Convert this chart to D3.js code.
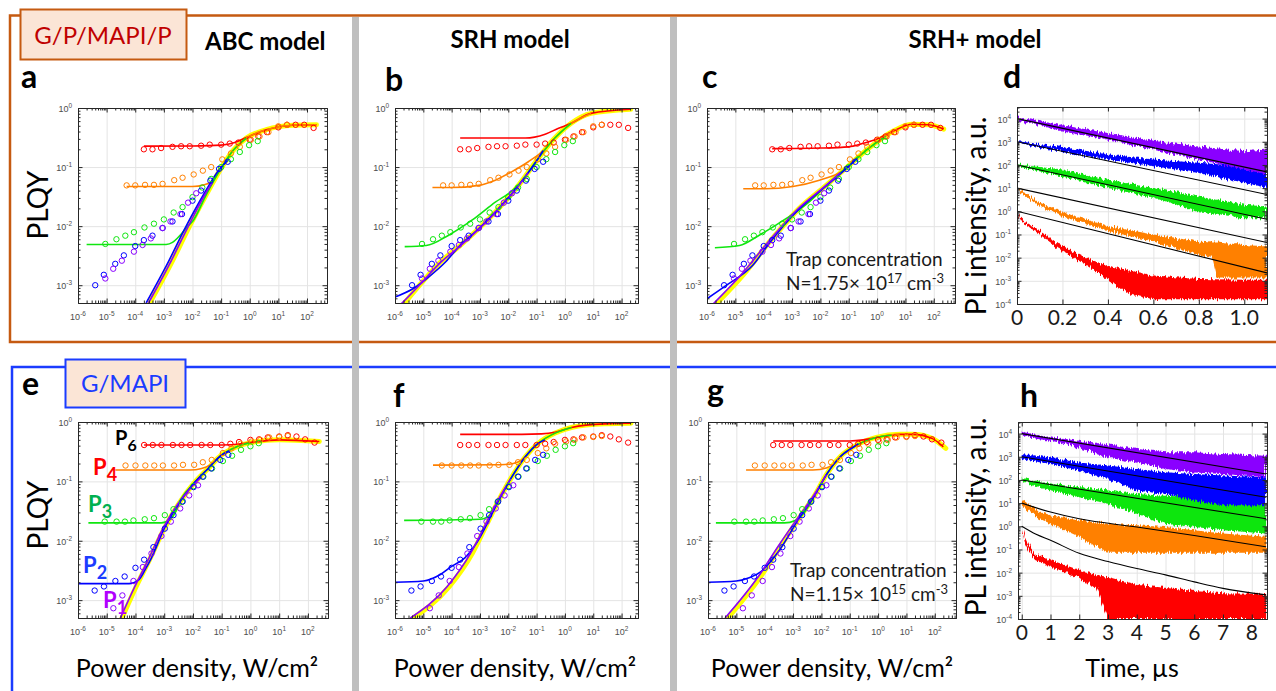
<!DOCTYPE html>
<html>
<head>
<meta charset="utf-8">
<script src="https://cdn.jsdelivr.net/npm/d3@7"></script>
<style>
body { margin: 0; background: #fff; }
svg { display: block; font-family: Lato, "Open Sans", sans-serif; }
.tk { font-family: "Liberation Sans", Arial, sans-serif; font-size: 9px; fill: #4d4d4d; }
.grid line { stroke: #e4e4e4; }
.grid .domain { display: none; }
.ax line, .ax path { stroke: #262626; stroke-width: 1; fill: none; }
</style>
</head>
<body>
<script>
// ---- PLQY vs power density (W/cm2), G/P/MAPI/P sample (panels a-c) ----
var topRed = [[2e-4,.20],[4e-4,.20],[8e-4,.21],[2e-3,.22],[4e-3,.225],[8e-3,.225],[2e-2,.23],[4e-2,.24],[.1,.24],[.2,.25],[.4,.26],[1,.29],[2,.33],[4,.39],[10,.47],[20,.52],[40,.52],[80,.52],[170,.46]];
var topOrange = [[5e-5,.049],[1e-4,.049],[2.2e-4,.05],[4.5e-4,.05],[9e-4,.052],[2.3e-3,.06],[4.5e-3,.066],[1.1e-2,.075],[2.3e-2,.087],[4.5e-2,.10],[.11,.135],[.22,.17],[.45,.22],[1.1,.29],[2.2,.33],[4.5,.39],[10,.49],[20,.52]];
var topGreen = [[9e-6,.005],[2.2e-5,.006],[4.5e-5,.0069],[9e-5,.0079],[2.1e-4,.0095],[4.5e-4,.011],[1e-3,.013],[2.2e-3,.017],[4.5e-3,.021],[1e-2,.031],[2.2e-2,.045],[4.5e-2,.063],[.1,.1],[.22,.136],[.45,.18],[.95,.235],[1.9,.275]];
var topBlue = [[4e-6,.001],[8e-6,.0015],[2e-5,.0023],[4e-5,.0032],[1e-4,.0046],[2e-4,.0058],[4e-4,.0069],[9e-4,.0093],[2e-3,.012],[4.3e-3,.016],[1e-2,.027],[2e-2,.04],[4.2e-2,.059],[8.5e-2,.093],[.17,.123]];
var topPurple = [[9e-6,.0013],[1.7e-5,.0019],[3.4e-5,.0026],[9e-5,.0037],[1.8e-4,.0048],[3.5e-4,.0062],[9e-4,.0093],[1.7e-3,.012],[3.8e-3,.016],[7e-3,.025],[1.35e-2,.036]];

// ---- G/MAPI sample (panels e-g) ----
var botRed = [[2e-4,.41],[4e-4,.41],[8e-4,.41],[2e-3,.41],[4e-3,.41],[8e-3,.41],[2e-2,.41],[4e-2,.41],[.1,.41],[.2,.43],[.4,.46],[1,.5],[2,.51],[4,.55],[10,.57],[20,.6],[40,.57],[80,.51],[170,.45]];
var botOrange = [[4.5e-5,.185],[1e-4,.185],[2.2e-4,.185],[4.5e-4,.185],[9e-4,.185],[2.2e-3,.185],[4.5e-3,.19],[1.1e-2,.19],[2.2e-2,.21],[4.5e-2,.23],[.11,.30],[.22,.36],[.45,.43],[1.1,.47],[2.2,.50],[4.5,.55],[10,.56],[20,.58]];
var botGreen = [[8.5e-6,.021],[2.2e-5,.021],[4.3e-5,.021],[8.5e-5,.022],[2.1e-4,.023],[4.4e-4,.024],[1.05e-3,.027],[2.1e-3,.034],[4.2e-3,.045],[1.05e-2,.083],[2.3e-2,.12],[4.6e-2,.165],[.11,.22],[.23,.27],[.47,.34],[1,.39],[1.95,.44]];
var botBlue = [[3.8e-6,.00145],[8e-6,.0017],[2e-5,.0021],[4.2e-5,.0025],[1e-4,.0035],[2e-4,.0048],[4.2e-4,.0078],[1.05e-3,.016],[2.1e-3,.027],[4.4e-3,.046],[1.05e-2,.08],[2.2e-2,.12],[4.3e-2,.165],[8.9e-2,.23],[.17,.28]];
var botPurple = [[1.7e-5,.00073],[3.5e-5,.0012],[8.5e-5,.0021],[1.8e-4,.0036],[3.6e-4,.0061],[8e-4,.012],[1.7e-3,.021],[3.6e-3,.035],[7.4e-3,.058],[1.5e-2,.086]];

// ---- model fits ----
var fitA = {
  yellow: [[3.2e-4,5e-4],[1.6e-3,2.1e-3],[7.9e-3,.01],[3.1e-2,.035],[8.9e-2,.087],[.26,.19],[.76,.31],[3.8,.43],[32,.51],[215,.52]],
  red: [[2e-4,.226],[1e-2,.228],[.1,.235],[.3,.26],[.8,.32],[3.8,.43],[32,.51],[215,.52]],
  orange: [[5e-5,.047],[1e-2,.047],[2.5e-2,.05],[5e-2,.058],[8.9e-2,.087],[.26,.19],[.76,.31],[3.8,.43],[32,.51],[215,.52]],
  green: [[2e-6,.0049],[1.2e-3,.0049],[2e-3,.0053],[3e-3,.0063],[4.5e-3,.0078],[6.5e-3,.0098],[1e-2,.012],[3.1e-2,.035],[8.9e-2,.087],[.26,.19],[.76,.31]],
  blue: [[2.4e-4,5e-4],[1.2e-3,2.1e-3],[6e-3,.01],[2.5e-2,.035],[8e-2,.087],[.17,.13]],
  purple: [[2.9e-4,5e-4],[1.45e-3,2.1e-3],[7.2e-3,.01],[2.8e-2,.035],[5e-2,.055]]
};
var fitB = {
  yellow: [[1.9e-6,4.6e-4],[8.3e-6,.00107],[3.6e-5,.00234],[1.8e-4,.0045],[9.1e-4,.0091],[4.6e-3,.02],[2.3e-2,.049],[.115,.141],[.44,.31],[1.66,.55],[8.3,.81],[209,.95]],
  red: [[2e-4,.31],[4e-2,.31],[.2,.36],[.57,.45],[1.66,.55],[8.3,.81],[209,.95]],
  orange: [[2.1e-5,.045],[1e-4,.045],[9e-4,.049],[3.5e-3,.06],[1.3e-2,.083],[5.1e-2,.123],[.195,.2],[.44,.31],[1.66,.55],[8.3,.81]],
  green: [[2.2e-6,.0045],[1.26e-5,.0047],[8.1e-5,.0071],[5.2e-4,.0126],[2.6e-3,.023],[2.3e-2,.05],[.115,.141],[.44,.31],[1.66,.55]],
  blue: [[1e-6,6.3e-4],[4.3e-6,8.7e-4],[1.6e-5,.0014],[6.2e-5,.0025],[1.8e-4,.0045],[9.1e-4,.0091],[4.6e-3,.02],[2.3e-2,.049],[.115,.141],[.17,.19]],
  purple: [[1.5e-6,4.6e-4],[8e-6,.00105],[3.6e-5,.0023],[1.8e-4,.0044],[9.1e-4,.0089],[4.6e-3,.0195],[2.3e-2,.048],[5e-2,.08]]
};
var fitC = {
  yellow: [[1.9e-6,4.6e-4],[1.9e-5,.0015],[1.6e-4,.0054],[1.8e-3,.02],[1.6e-2,.049],[.105,.108],[.52,.21],[3.5,.4],[17,.53],[66,.52],[224,.44]],
  red: [[2e-4,.205],[1e-2,.21],[.1,.22],[.3,.25],[1,.3],[3.5,.4],[17,.53],[66,.52],[224,.44]],
  orange: [[1.9e-5,.043],[1.1e-4,.043],[1.07e-3,.047],[9.2e-3,.06],[6e-2,.086],[.18,.14],[.52,.21],[3.5,.4]],
  green: [[1.9e-6,.0043],[1.4e-5,.0047],[7.2e-5,.0071],[6.3e-4,.0135],[4.1e-3,.026],[1.6e-2,.049],[.105,.108],[.52,.21],[2,.33]],
  blue: [[1e-6,5.9e-4],[4.9e-6,.001],[4.2e-5,.0022],[1.6e-4,.0052],[1.8e-3,.0195],[1.6e-2,.048],[.105,.105],[.2,.14]],
  purple: [[1.5e-6,4.6e-4],[1.6e-5,.0015],[1.4e-4,.0053],[1.6e-3,.0195],[1.5e-2,.048],[5e-2,.08]]
};
var fitE = {
  yellow: [[3.4e-5,5e-4],[1e-4,.0016],[3.2e-4,.005],[1e-3,.016],[3.2e-3,.042],[1e-2,.089],[3.2e-2,.16],[.1,.28],[.32,.38],[1,.45],[10,.5],[250,.47]],
  red: [[2e-4,.41],[.1,.41],[.5,.43],[1,.45],[10,.5],[250,.47]],
  orange: [[2e-5,.155],[8e-3,.155],[2e-2,.165],[4e-2,.19],[.1,.28],[.32,.38],[1,.45]],
  green: [[2.3e-6,.02],[8e-4,.02],[1.6e-3,.023],[2.5e-3,.031],[3.2e-3,.042],[1e-2,.089],[3.2e-2,.16],[.1,.28],[.32,.38],[1,.45]],
  blue: [[1e-6,.0019],[6e-5,.0019],[1.3e-4,.0022],[2.2e-4,.0033],[3.5e-4,.005],[1e-3,.016],[3.2e-3,.042],[1e-2,.089],[3.2e-2,.16],[.1,.28],[.2,.33]],
  purple: [[3e-5,5e-4],[9e-5,.0016],[2.9e-4,.005],[9e-4,.016],[2.9e-3,.041],[1e-2,.085],[2e-2,.12]]
};
var fitF = {
  yellow: [[4.4e-6,5e-4],[8.3e-5,.0017],[5.5e-4,.0063],[1.6e-3,.0174],[4.7e-3,.049],[1.35e-2,.12],[4e-2,.26],[.117,.44],[.45,.65],[1.7,.81],[25,.93],[215,.95]],
  red: [[2e-4,.62],[3e-2,.62],[.15,.63],[.45,.67],[1.7,.81],[25,.93],[215,.95]],
  orange: [[2.2e-5,.188],[5e-3,.19],[1.5e-2,.2],[3e-2,.23],[6e-2,.32],[.117,.44],[.45,.65],[1.7,.81]],
  green: [[2.1e-6,.022],[1e-3,.023],[2.2e-3,.027],[4.7e-3,.049],[1.35e-2,.12],[4e-2,.26],[.117,.44],[.45,.65],[1.7,.81]],
  blue: [[1e-6,.002],[1e-5,.0021],[4e-5,.0027],[1e-4,.0037],[3e-4,.0052],[8e-4,.0095],[1.6e-3,.0174],[4.7e-3,.049],[1.35e-2,.12],[4e-2,.26],[.117,.44],[.2,.5]],
  purple: [[3.5e-6,5e-4],[7e-5,.0017],[4.8e-4,.0063],[1.45e-3,.0174],[4.4e-3,.049],[1.2e-2,.11]]
};
var fitG = {
  yellow: [[5e-6,5e-4],[7.2e-5,.0025],[3.6e-4,.0081],[1.8e-3,.0257],[5.4e-3,.055],[1.6e-2,.136],[4.6e-2,.26],[.176,.41],[.87,.55],[5.8,.62],[16.6,.62],[83,.525],[245,.36]],
  red: [[2e-4,.48],[.1,.48],[.3,.5],[.87,.55],[5.8,.62],[16.6,.62],[83,.525],[200,.38]],
  orange: [[2.2e-5,.155],[5e-3,.155],[1.6e-2,.17],[3e-2,.2],[4.6e-2,.26],[.176,.41],[.87,.55],[5.8,.62]],
  green: [[1.9e-6,.02],[5e-4,.02],[1.2e-3,.022],[2.5e-3,.03],[5.4e-3,.055],[1.6e-2,.136],[4.6e-2,.26],[.176,.41],[.87,.55],[3,.6]],
  blue: [[1e-6,.002],[1e-5,.0021],[3e-5,.0024],[7.2e-5,.003],[2.8e-4,.0062],[1.8e-3,.0257],[5.4e-3,.055],[1.6e-2,.136],[4.6e-2,.26],[.176,.41],[.2,.43]],
  purple: [[4e-6,5e-4],[6e-5,.0025],[3e-4,.0081],[1.6e-3,.0257],[5e-3,.055],[1.5e-2,.13]]
};

// ---- PL decays: [time, upper, lower] of the noisy trace ----
var dPurple = [[0,11400,8800],[.02,10500,8000],[.2,5100,2750],[.4,2400,1250],[.6,1100,460],[.8,630,170],[1.0,390,63],[1.1,460,40]];
var dBlue = [[0,1100,900],[.02,1000,850],[.2,600,360],[.4,280,170],[.6,170,87],[.8,123,45],[1.0,87,17],[1.1,63,10]];
var dGreen = [[0,110,90],[.02,100,80],[.2,63,32],[.4,23,10],[.6,10,3.8],[.8,4.4,1],[1.0,1.9,.5],[1.1,1.6,.5]];
var dOrange = [[0,11,9],[.02,8,6],[.1,2.3,1.6],[.2,.9,.6],[.4,.23,.14],[.6,.1,.05],[.8,.05,.013],[.86,.045,.01],[.88,.045,.0014],[1.0,.035,.0014],[1.1,.03,.0014]];
var dRed = [[0,1.05,.9],[.02,.5,.35],[.05,.28,.22],[.1,.14,.1],[.2,.031,.019],[.3,.01,.005],[.4,.0045,.0011],[.5,.0027,.00025],[.6,.0017,.00016],[.8,.0012,.00016],[1.0,.0011,.00016],[1.1,.0011,.00016]];
var dFit = {
  purple: [[0,1e4],[1.1,50]], blue: [[0,1000],[1.1,5.3]], green: [[0,100],[1.1,.45]],
  orange: [[0,10],[1.1,.045]], red: [[0,1],[1.1,.0022]]
};
var hPurple = [[0,12000,8500],[.5,9000,6000],[1,6700,4900],[2,4900,2500],[3,3500,900],[4,2150,570],[5,1550,300],[6,1550,210],[7,1300,180],[8.5,1100,130]];
var hBlue = [[0,1300,800],[1,940,490],[2,570,250],[3,415,110],[4,300,35],[5,215,25],[6,180,13],[7,155,8],[8.5,130,8]];
var hGreen = [[0,125,90],[1,68,35],[2,49,18],[3,35,9.3],[4,25,3.5],[5,21,1.3],[6,18,.93],[7,13,.68],[8.5,11,.49]];
var hOrange = [[0,15,8],[.5,4.9,2.5],[1,3,1.3],[2,1.8,.35],[2.5,1.5,.15],[2.8,1.4,.1],[3,1.3,.072],[4,1.1,.072],[5,.93,.072],[6,.68,.072],[7,.49,.072],[8.5,.35,.072]];
var hRed = [[0,1.05,.9],[.1,.35,.2],[.25,.14,.08],[.5,.06,.035],[1,.035,.018],[2,.013,.006],[2.6,.008,.002],[3,.0065,1e-4],[4,.003,1e-4],[5,.0022,1e-4],[6,.0016,1e-4],[7,.0013,1e-4],[8.5,.0012,1e-4]];
var hFit = {
  purple: [[0,1e4],[8.5,180]], blue: [[0,1000],[8.5,18]], green: [[0,100],[8.5,2.1]],
  orange: [[0,10],[1,4.1],[2,2.1],[4,.93],[6,.4],[8.5,.13]],
  red: [[0,1],[.5,.45],[1,.25],[2,.068],[3,.03],[4,.015],[5,.008],[6,.004],[7,.0021],[8.5,.0011]]
};
var dTicks = [0, .2, .4, .6, .8, 1.0];
var hTicks = [0, 1, 2, 3, 4, 5, 6, 7, 8];

var col = { red: '#ff0000', orange: '#ff8000', green: '#10e610', blue: '#0000ff', purple: '#8a00ff', yellow: '#ffff00' };
var order = ['red', 'orange', 'green', 'blue', 'purple'];

var svg = d3.select('body').append('svg').attr('width', 1276).attr('height', 691);
var defs = svg.append('defs');
var nf = defs.append('filter').attr('id', 'noise').attr('x', '-2%').attr('y', '-10%').attr('width', '104%').attr('height', '120%');
nf.append('feTurbulence').attr('type', 'fractalNoise').attr('baseFrequency', '0.7 0.03').attr('numOctaves', 2).attr('seed', 4).attr('result', 't');
nf.append('feDisplacementMap').attr('in', 'SourceGraphic').attr('in2', 't').attr('scale', 7)
  .attr('xChannelSelector', 'R').attr('yChannelSelector', 'G');

// frames
var oc = '#c55a11', bc = '#1b3cff';
svg.append('path').attr('d', 'M1276,15.5H10V342H1276').attr('fill', 'none').attr('stroke', oc).attr('stroke-width', 2.5);
svg.append('path').attr('d', 'M1276,367H12V691').attr('fill', 'none').attr('stroke', bc).attr('stroke-width', 2.5);
svg.append('rect').attr('x', 352).attr('y', 17).attr('width', 7).attr('height', 674).attr('fill', '#bfbfbf');
svg.append('rect').attr('x', 670).attr('y', 17).attr('width', 7).attr('height', 674).attr('fill', '#bfbfbf');

svg.append('rect').attr('x', 20.5).attr('y', 9.5).attr('width', 166).attr('height', 50).attr('fill', '#fbe5d6').attr('stroke', oc).attr('stroke-width', 2);
svg.append('text').attr('x', 103).attr('y', 44).attr('text-anchor', 'middle').attr('font-size', 24).attr('fill', '#c00000').text('G/P/MAPI/P');
svg.append('rect').attr('x', 65.5).attr('y', 359.5).attr('width', 120).attr('height', 48).attr('fill', '#fbe5d6').attr('stroke', bc).attr('stroke-width', 2);
svg.append('text').attr('x', 125).attr('y', 392).attr('text-anchor', 'middle').attr('font-size', 24).attr('fill', '#1b3cff').text('G/MAPI');

function txt(x, y, s, size, weight, anchor) {
  return svg.append('text').attr('x', x).attr('y', y).attr('font-size', size)
    .attr('font-weight', weight || 400).attr('text-anchor', anchor || 'start').attr('fill', '#000').text(s);
}
txt(205, 50, 'ABC model', 24, 700);
txt(510, 48, 'SRH model', 24, 700, 'middle');
txt(975, 48, 'SRH+ model', 24, 700, 'middle');
[['a', 21, 88], ['b', 385, 91], ['c', 702, 88], ['d', 1003, 88], ['e', 22, 395], ['f', 393, 407], ['g', 707, 402], ['h', 1020, 407]]
  .forEach(function(l) { txt(l[1], l[2], l[0], 32, 700); });

function sup(t, base, ex, size) {
  t.append('tspan').text(base);
  t.append('tspan').attr('dy', -size * 0.45).attr('font-size', size * 0.72).text(ex);
}

function boxAxes(g, x, y, b, xMaj, xMin, yMaj, yMin) {
  var sides = [
    [d3.axisBottom, x, xMaj, xMin, 'translate(0,' + b.y1 + ')'],
    [d3.axisTop, x, xMaj, xMin, 'translate(0,' + b.y0 + ')'],
    [d3.axisLeft, y, yMaj, yMin, 'translate(' + b.x0 + ',0)'],
    [d3.axisRight, y, yMaj, yMin, 'translate(' + b.x1 + ',0)']
  ];
  sides.forEach(function(s) {
    g.append('g').attr('class', 'ax').attr('transform', s[4])
      .call(s[0](s[1]).tickValues(s[3]).tickSizeInner(-2.5).tickSizeOuter(0).tickFormat(''));
    g.append('g').attr('class', 'ax').attr('transform', s[4])
      .call(s[0](s[1]).tickValues(s[2]).tickSizeInner(-4.5).tickSizeOuter(0).tickFormat(''));
  });
}

function logMinor(lo, hi) {
  var out = [];
  for (var e = Math.floor(Math.log10(lo)); e <= Math.ceil(Math.log10(hi)); e++) {
    for (var k = 2; k < 10; k++) { var v = k * Math.pow(10, e); if (v > lo && v < hi) out.push(v); }
  }
  return out;
}

var clipN = 0;
function clipFor(g, b) {
  var id = 'clip' + (clipN++);
  defs.append('clipPath').attr('id', id).append('rect')
    .attr('x', b.x0).attr('y', b.y0).attr('width', b.x1 - b.x0).attr('height', b.y1 - b.y0);
  return g.append('g').attr('clip-path', 'url(#' + id + ')');
}

function plqyPanel(b, pts, fit) {
  var x = d3.scaleLog().domain([1e-6, b.xmax]).range([b.x0, b.x1]);
  var y = d3.scaleLog().domain([5e-4, 1]).range([b.y1, b.y0]);
  var w = b.x1 - b.x0, h = b.y1 - b.y0;
  var g = svg.append('g');
  var xMaj = d3.range(-6, 3).map(function(e) { return Math.pow(10, e); });
  var yMaj = d3.range(-3, 1).map(function(e) { return Math.pow(10, e); });

  g.append('g').attr('class', 'grid').attr('transform', 'translate(0,' + b.y1 + ')')
    .call(d3.axisBottom(x).tickValues(xMaj).tickSize(-h).tickFormat(''));
  g.append('g').attr('class', 'grid').attr('transform', 'translate(' + b.x0 + ',0)')
    .call(d3.axisLeft(y).tickValues(yMaj).tickSize(-w).tickFormat(''));

  var pg = clipFor(g, b);
  var line = d3.line().x(function(d) { return x(d[0]); }).y(function(d) { return y(d[1]); }).curve(d3.curveMonotoneX);
  pg.append('path').datum(fit.yellow).attr('d', line).attr('fill', 'none')
    .attr('stroke', col.yellow).attr('stroke-width', 5).attr('stroke-linecap', 'round');
  order.forEach(function(k) {
    pg.append('path').datum(fit[k]).attr('d', line).attr('fill', 'none')
      .attr('stroke', col[k]).attr('stroke-width', 1.6);
  });
  order.forEach(function(k, i) {
    pg.selectAll(null).data(pts[i]).enter().append('circle')
      .attr('cx', function(d) { return x(d[0]); }).attr('cy', function(d) { return y(d[1]); })
      .attr('r', 2.7).attr('fill', 'none').attr('stroke', col[k]).attr('stroke-width', 1);
  });

  boxAxes(g, x, y, b, xMaj, logMinor(1e-6, b.xmax), yMaj, logMinor(5e-4, 1));

  xMaj.forEach(function(v) {
    var t = g.append('text').attr('class', 'tk').attr('x', x(v)).attr('y', b.y1 + 17).attr('text-anchor', 'middle');
    sup(t, '10', String(Math.round(Math.log10(v))), 9);
  });
  yMaj.forEach(function(v) {
    var t = g.append('text').attr('class', 'tk').attr('x', b.x0 - 6).attr('y', y(v) + 4).attr('text-anchor', 'end');
    sup(t, '10', String(Math.round(Math.log10(v))), 9);
  });
}

function decayPanel(b, xdom, bands, fits, ticks, fmt) {
  var x = d3.scaleLinear().domain(xdom).range([b.x0, b.x1]);
  var y = d3.scaleLog().domain([1e-4, Math.pow(10, 4.5)]).range([b.y1, b.y0]);
  var w = b.x1 - b.x0, h = b.y1 - b.y0;
  var g = svg.append('g');
  var yMaj = d3.range(-4, 5).map(function(e) { return Math.pow(10, e); });

  g.append('g').attr('class', 'grid').attr('transform', 'translate(0,' + b.y1 + ')')
    .call(d3.axisBottom(x).tickValues(ticks).tickSize(-h).tickFormat(''));
  g.append('g').attr('class', 'grid').attr('transform', 'translate(' + b.x0 + ',0)')
    .call(d3.axisLeft(y).tickValues(yMaj).tickSize(-w).tickFormat(''));

  var pg = clipFor(g, b);
  var area = d3.area().x(function(d) { return x(d[0]); })
    .y0(function(d) { return y(d[2]); }).y1(function(d) { return y(d[1]); });
  order.forEach(function(k, i) {
    pg.append('path').datum(bands[i]).attr('d', area).attr('fill', col[k])
      .attr('filter', 'url(#noise)');
  });
  var line = d3.line().x(function(d) { return x(d[0]); }).y(function(d) { return y(d[1]); }).curve(d3.curveMonotoneX);
  order.forEach(function(k) {
    pg.append('path').datum(fits[k]).attr('d', line).attr('fill', 'none').attr('stroke', '#000').attr('stroke-width', 1.1);
  });

  boxAxes(g, x, y, b, ticks, [], yMaj, logMinor(1e-4, Math.pow(10, 4.5)));

  ticks.forEach(function(v) {
    g.append('text').attr('x', x(v)).attr('y', b.y1 + 21).attr('text-anchor', 'middle')
      .attr('font-size', 21).attr('fill', '#1a1a1a').text(fmt(v));
  });
  yMaj.forEach(function(v) {
    var t = g.append('text').attr('class', 'tk').attr('x', b.x0 - 6).attr('y', y(v) + 4).attr('text-anchor', 'end');
    sup(t, '10', String(Math.round(Math.log10(v))), 9);
  });
}

plqyPanel({ x0: 78, x1: 327, y0: 108, y1: 303, xmax: 500 }, [topRed, topOrange, topGreen, topBlue, topPurple], fitA);
plqyPanel({ x0: 395, x1: 638, y0: 108, y1: 303, xmax: 380 }, [topRed, topOrange, topGreen, topBlue, topPurple], fitB);
plqyPanel({ x0: 707, x1: 955, y0: 108, y1: 303, xmax: 560 }, [topRed, topOrange, topGreen, topBlue, topPurple], fitC);
plqyPanel({ x0: 78, x1: 328, y0: 422, y1: 618, xmax: 500 }, [botRed, botOrange, botGreen, botBlue, botPurple], fitE);
plqyPanel({ x0: 395, x1: 638, y0: 422, y1: 618, xmax: 380 }, [botRed, botOrange, botGreen, botBlue, botPurple], fitF);
plqyPanel({ x0: 708, x1: 956, y0: 422, y1: 618, xmax: 560 }, [botRed, botOrange, botGreen, botBlue, botPurple], fitG);

decayPanel({ x0: 1017, x1: 1267, y0: 107, y1: 304 }, [0, 1.1], [dRed, dOrange, dGreen, dBlue, dPurple], dFit, dTicks,
  function(v) { return v === 0 ? '0' : d3.format('.1f')(v); });
decayPanel({ x0: 1018, x1: 1267, y0: 422, y1: 619 }, [-0.13, 8.53], [hRed, hOrange, hGreen, hBlue, hPurple], hFit, hTicks,
  function(v) { return String(v); });

// axis titles
function vlabel(x, y, s) {
  svg.append('text').attr('transform', 'translate(' + x + ',' + y + ') rotate(-90)')
    .attr('text-anchor', 'middle').attr('font-size', 28).attr('fill', '#000').text(s);
}
vlabel(48, 205, 'PLQY');
vlabel(48, 515, 'PLQY');
vlabel(986, 216, 'PL intensity,  a.u.');
vlabel(986, 517, 'PL intensity,  a.u.');
[197, 515, 832].forEach(function(cx) { txt(cx, 677, 'Power density, W/cm\u00b2', 25, 400, 'middle'); });
txt(1132, 677, 'Time, \u00b5s', 25, 400, 'middle');

// trap concentration notes
function trap(x, y, exp) {
  txt(x, y, 'Trap concentration', 19, 400).attr('fill', '#1a1a1a');
  var t = txt(x, y + 24, '', 19, 400).attr('fill', '#1a1a1a');
  t.append('tspan').text('N=' + exp[0] + '\u00d7 10');
  t.append('tspan').attr('dy', -7).attr('font-size', 13).text(exp[1]);
  t.append('tspan').attr('dy', 7).text(' cm');
  t.append('tspan').attr('dy', -7).attr('font-size', 13).text('-3');
}
trap(786, 266, ['1.75', '17']);
trap(790, 577, ['1.15', '15']);

// P labels in panel e
[['P', '6', 115, 445, '#000', 20], ['P', '4', 93, 475, '#ff0000', 22], ['P', '3', 88, 512, '#00b050', 22],
 ['P', '2', 83, 573, '#1b3cff', 22], ['P', '1', 103, 608, '#b000ff', 22]].forEach(function(p) {
  var t = txt(p[2], p[3], '', p[5], 700).attr('fill', p[4]);
  t.append('tspan').text(p[0]);
  t.append('tspan').attr('dy', 6).attr('font-size', p[5] - 4).text(p[1]);
});
</script>
</body>
</html>
